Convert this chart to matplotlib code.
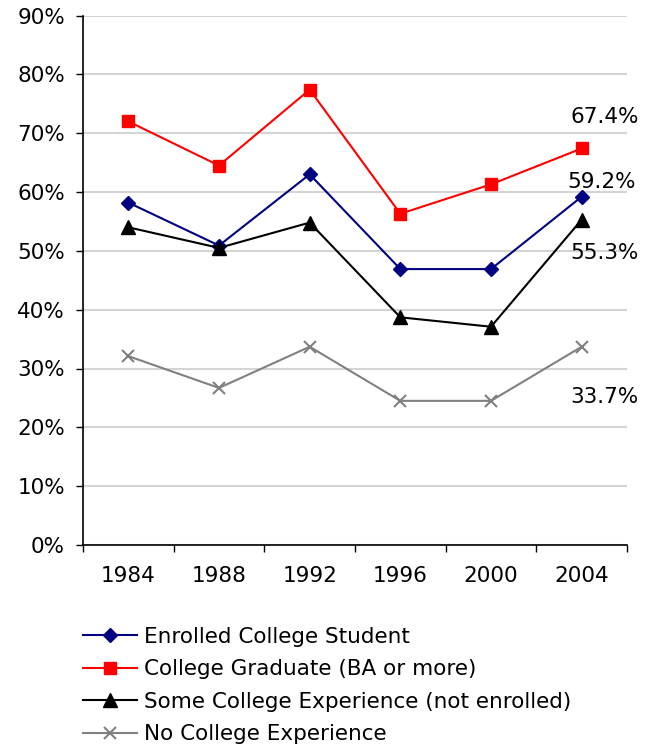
import matplotlib
matplotlib.use("Agg")
import matplotlib.pyplot as plt
from matplotlib.ticker import FixedLocator, PercentFormatter

years = ["1984", "1988", "1992", "1996", "2000", "2004"]
enrolled = [58.2, 50.9, 63.0, 46.9, 46.9, 59.2]
graduate = [72.0, 64.5, 77.4, 56.3, 61.3, 67.4]
some_college = [54.0, 50.5, 54.8, 38.7, 37.1, 55.3]
no_college = [32.1, 26.7, 33.7, 24.5, 24.5, 33.7]

series_names = ["Enrolled College Student", "College Graduate (BA or more)",
                "Some College Experience (not enrolled)", "No College Experience"]

plt.rcParams['font.family'] = ['DejaVu Sans']
FS = 15.5

fig = plt.figure(figsize=(6.55, 7.46), dpi=100)
ax = fig.add_axes([83/655, 1-545/746, (627-83)/655, (545-15.5)/746])

x = list(range(len(years)))
ax.plot(x, enrolled, color="#000080", marker="D", ms=7, lw=1.5, label=series_names[0])
ax.plot(x, graduate, color="#ff0000", marker="s", ms=8.5, lw=1.5, label=series_names[1])
ax.plot(x, some_college, color="#000000", marker="^", ms=9.5, lw=1.5, label=series_names[2])
ax.plot(x, no_college, color="#808080", marker="x", ms=9, mew=1.5, lw=1.5, label=series_names[3])

ax.set_xlim(-0.5, len(years) - 0.5)
ax.set_ylim(0, 90)
ax.set_yticks(range(0, 91, 10))
ax.yaxis.set_major_formatter(PercentFormatter(decimals=0))
ax.grid(axis="y", color="#d4d4d4", lw=1.5)
ax.set_axisbelow(True)

ax.xaxis.set_major_locator(FixedLocator([i - 0.5 for i in range(len(years) + 1)]))
ax.xaxis.set_minor_locator(FixedLocator(x))
ax.set_xticklabels([])
ax.set_xticklabels(years, minor=True)
ax.tick_params(axis="x", which="major", direction="out", length=5, width=1)
ax.tick_params(axis="x", which="minor", length=0, pad=15, labelsize=FS)
ax.tick_params(axis="y", direction="out", length=5, width=1, labelsize=FS, pad=8)

for s in ["top", "right"]:
    ax.spines[s].set_visible(False)
for s in ["left", "bottom"]:
    ax.spines[s].set_color("black")
    ax.spines[s].set_linewidth(1.2)

# data labels for 2004
labels = [(graduate[-1], (23, 31)), (enrolled[-1], (20, 15)),
          (some_college[-1], (23, -33)), (no_college[-1], (23, -50))]
for val, off in labels:
    ax.annotate(f"{val:.1f}%", xy=(x[-1], val), xytext=off, textcoords="offset pixels",
                ha="center", va="center", fontsize=FS, annotation_clip=False)

handles, labs = ax.get_legend_handles_labels()
fig.legend(handles, labs, loc="upper left", bbox_to_anchor=(83/655, 1-627/746),
           frameon=False, fontsize=FS, handlelength=2.5, handletextpad=0.35,
           labelspacing=0.58, borderaxespad=0, borderpad=0)

fig.savefig("out.png", dpi=100)
